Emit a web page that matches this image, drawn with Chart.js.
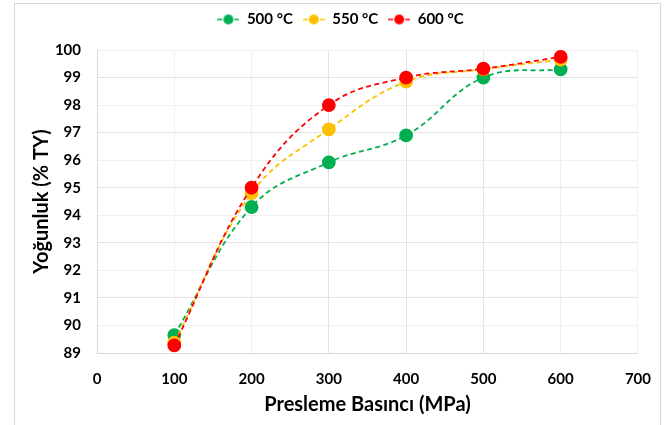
<!DOCTYPE html>
<html>
<head>
<meta charset="utf-8">
<script src="https://cdn.jsdelivr.net/npm/chart.js@4.4.1/dist/chart.umd.min.js"></script>
<style>
html,body{margin:0;padding:0;background:#fff;}
#wrap{width:668px;height:425px;position:relative;}
</style>
</head>
<body>
<div id="wrap"><canvas id="c" width="668" height="425"></canvas></div>
<script>
const pressures = [100, 200, 300, 400, 500, 600];
const series500 = [89.65, 94.3, 95.92, 96.9, 99.0, 99.3];
const series550 = [89.38, 94.8, 97.12, 98.85, 99.3, 99.65];
const series600 = [89.28, 95.0, 98.0, 99.0, 99.32, 99.75];
const seriesLabels = ['500 °C', '550 °C', '600 °C'];
const seriesColors = ['#00B050', '#FFC000', '#FF0000'];
const xTicks = [0, 100, 200, 300, 400, 500, 600, 700];
const yTicks = [89, 90, 91, 92, 93, 94, 95, 96, 97, 98, 99, 100];

const FONT = 'Lato, "Open Sans", sans-serif';

function legendIcon(color) {
  const c = document.createElement('canvas');
  c.width = 22; c.height = 12;
  const x = c.getContext('2d');
  x.strokeStyle = color; x.lineWidth = 1.5;
  x.beginPath(); x.moveTo(0, 6); x.lineTo(5, 6); x.moveTo(17, 6); x.lineTo(22, 6); x.stroke();
  x.fillStyle = color;
  x.beginPath(); x.arc(11, 6, 5, 0, Math.PI * 2); x.fill();
  return c;
}

const raw = [series500, series550, series600];
const datasets = raw.map((vals, i) => ({
  label: seriesLabels[i],
  data: pressures.map((p, j) => ({x: p, y: vals[j]})),
  borderColor: seriesColors[i],
  backgroundColor: seriesColors[i],
  pointBackgroundColor: seriesColors[i],
  pointBorderColor: seriesColors[i],
  pointRadius: 6,
  pointHoverRadius: 6,
  borderWidth: 1.8,
  borderDash: [5, 3.5],
  tension: 0.4,
  order: 2 - i,
  pointStyle: 'circle',
  legendIcon: legendIcon(seriesColors[i])
}));

const outerBorder = {
  id: 'outerBorder',
  beforeLayout(chart) {
    const lg = chart.legend;
    if (lg && !lg._fixedH) {
      const f = lg.fit.bind(lg);
      lg.fit = function () { f(); this.height = 48; };
      lg._fixedH = true;
    }
  },
  afterLayout(chart) {
    const lg = chart.legend;
    if (lg) { lg.left += 14; lg.right += 14; }
  },
  afterDraw(chart) {
    const ctx = chart.ctx;
    ctx.save();
    ctx.strokeStyle = '#d9d9d9';
    ctx.lineWidth = 1;
    ctx.strokeRect(14.5, 3.5, 646, 425);
    ctx.restore();
  }
};

function gridColor(major) {
  return major ? '#e3e3e3' : '#f0f0f0';
}

new Chart(document.getElementById('c'), {
  type: 'line',
  data: { datasets },
  plugins: [outerBorder],
  options: {
    responsive: false,
    animation: false,
    devicePixelRatio: 1,
    layout: { padding: { left: 14, right: 29, top: 2, bottom: 0 } },
    plugins: {
      tooltip: { enabled: false },
      legend: {
        position: 'top',
        labels: {
          usePointStyle: true,
          pointStyleWidth: 22,
          padding: 10,
          color: '#000',
          font: { family: FONT, size: 15, weight: 'bold' },
          generateLabels(chart) {
            return chart.data.datasets.map((ds, i) => ({
              text: ds.label,
              fillStyle: ds.backgroundColor,
              strokeStyle: ds.borderColor,
              lineWidth: 0,
              pointStyle: ds.legendIcon,
              hidden: false,
              datasetIndex: i,
              fontColor: '#000'
            }));
          }
        }
      }
    },
    scales: {
      x: {
        type: 'linear',
        min: 0, max: 700,
        afterBuildTicks(s) { s.ticks = xTicks.map(v => ({value: v})); },
        afterFit(s) { s.height = 72; },
        ticks: {
          color: '#000',
          padding: 17,
          font: { family: FONT, size: 15, weight: 'bold' }
        },
        grid: {
          color: ctx => gridColor(ctx.tick && [300, 400, 500].includes(ctx.tick.value)),
          drawTicks: false
        },
        border: { color: '#d9d9d9' },
        title: {
          display: true,
          text: 'Presleme Basıncı (MPa)',
          color: '#000',
          font: { family: FONT, size: 20, weight: 'bold' },
          padding: { top: 0, bottom: 8 }
        }
      },
      y: {
        type: 'linear',
        min: 89, max: 100,
        afterBuildTicks(s) { s.ticks = yTicks.map(v => ({value: v})); },
        afterFit(s) { s.width = 83; },
        ticks: {
          color: '#000',
          padding: 16,
          font: { family: FONT, size: 15, weight: 'bold' }
        },
        grid: {
          color: ctx => gridColor(ctx.tick && ctx.tick.value % 2 === 1),
          drawTicks: false
        },
        border: { color: '#d9d9d9' },
        title: {
          display: true,
          text: 'Yoğunluk (% TY)',
          color: '#000',
          font: { family: FONT, size: 20, weight: 'bold' },
          padding: { top: 16, bottom: 0 }
        }
      }
    }
  }
});
</script>
</body>
</html>
